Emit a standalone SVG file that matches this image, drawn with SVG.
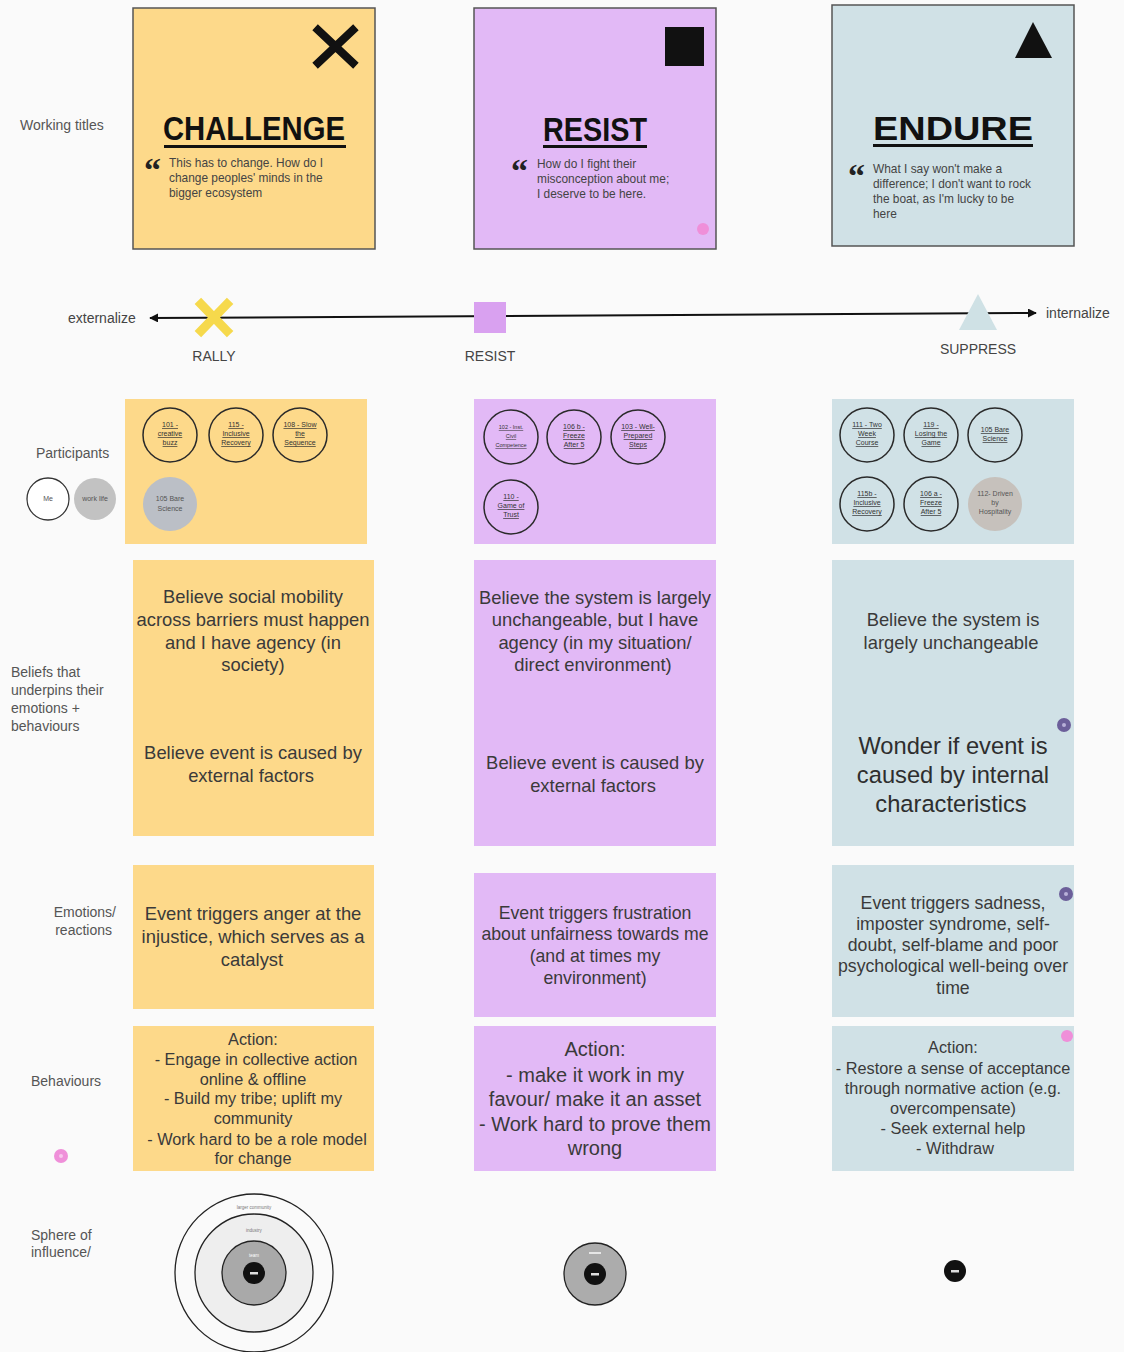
<svg xmlns="http://www.w3.org/2000/svg" width="1124" height="1352" viewBox="0 0 1124 1352">
  <style>
    text { font-family: "Liberation Sans", Arial, sans-serif; fill: #3a3a3a; }
    .lbl { font-size: 14px; fill: #555; }
    .title { font-size: 34px; font-weight: bold; fill: #111; text-anchor: middle; }
    .quote { font-size: 11.9px; fill: #444; }
    .qm { font-size: 34px; font-weight: bold; fill: #222; font-family: "Liberation Serif", serif; }
    .body { font-size: 18.4px; text-anchor: middle; fill: #3a3a3a; }
    .body16 { font-size: 17.7px; text-anchor: middle; fill: #3a3a3a; }
    .body15 { font-size: 16.3px; text-anchor: middle; fill: #3a3a3a; }
    .big { font-size: 23.7px; text-anchor: middle; fill: #2e2e2e; }
    .big19 { font-size: 20px; text-anchor: middle; fill: #3a3a3a; }
    .axis { font-size: 14px; fill: #444; }
    .pc { fill: none; stroke: #2a2a2a; stroke-width: 1.5; }
    .pt { font-size: 7px; text-anchor: middle; fill: #333; text-decoration: underline; }
    .pg { font-size: 7px; text-anchor: middle; fill: #555; }
    .yellow { fill: #fdd98a; }
    .purple { fill: #e2b9f6; }
    .blue { fill: #d0e1e6; }
    .card { stroke: #555; stroke-width: 1.5; }
    .pink { fill: #ef8fd9; }
    .violet { fill: #6c5f9a; }
  </style>
  <defs>
    <marker id="arrow" viewBox="0 0 10 10" refX="9" refY="5" markerWidth="9" markerHeight="9" markerUnits="userSpaceOnUse" orient="auto">
      <path d="M0,0 L10,5 L0,10 z" fill="#111"/>
    </marker>
  </defs>

  <rect width="1124" height="1352" fill="#fafafa"/>

  <!-- row labels -->
  <g id="row-labels">
    <text class="lbl" x="20" y="130">Working titles</text>
    <text class="lbl" x="36" y="458">Participants</text>
    <text class="lbl" x="11" y="677">Beliefs that</text>
    <text class="lbl" x="11" y="695">underpins their</text>
    <text class="lbl" x="11" y="713">emotions +</text>
    <text class="lbl" x="11" y="731">behaviours</text>
    <text class="lbl" x="116" y="917" text-anchor="end">Emotions/</text>
    <text class="lbl" x="112" y="935" text-anchor="end">reactions</text>
    <text class="lbl" x="31" y="1086">Behaviours</text>
    <text class="lbl" x="31" y="1240">Sphere of</text>
    <text class="lbl" x="31" y="1257">influence/</text>
  </g>

  <!-- title cards -->
  <g id="card-challenge">
    <rect class="yellow card" x="133" y="8" width="242" height="241"/>
    <path d="M318,30 L353,63 M353,30 L318,63" stroke="#111" stroke-width="8" stroke-linecap="square"/>
    <text class="title" x="254" y="140" textLength="182" lengthAdjust="spacingAndGlyphs">CHALLENGE</text>
    <rect x="164" y="145" width="182" height="3" fill="#111"/>
    <text class="qm" x="144" y="181">“</text>
    <text class="quote" x="169" y="167">This has to change. How do I</text>
    <text class="quote" x="169" y="182">change peoples' minds in the</text>
    <text class="quote" x="169" y="197">bigger ecosystem</text>
  </g>
  <g id="card-resist">
    <rect class="purple card" x="474" y="8" width="242" height="241"/>
    <rect x="665" y="27" width="39" height="39" fill="#111"/>
    <text class="title" x="595" y="141" textLength="104" lengthAdjust="spacingAndGlyphs">RESIST</text>
    <rect x="543" y="145" width="104" height="3" fill="#111"/>
    <text class="qm" x="511" y="182">“</text>
    <text class="quote" x="537" y="168">How do I fight their</text>
    <text class="quote" x="537" y="183">misconception about me;</text>
    <text class="quote" x="537" y="198">I deserve to be here.</text>
    <circle class="pink" cx="703" cy="229" r="6"/>
  </g>
  <g id="card-endure">
    <rect class="blue card" x="832" y="5" width="242" height="241"/>
    <polygon points="1015,58 1052,58 1033,22" fill="#111"/>
    <text class="title" x="953" y="140" textLength="160" lengthAdjust="spacingAndGlyphs">ENDURE</text>
    <rect x="873" y="144" width="160" height="3" fill="#111"/>
    <text class="qm" x="848" y="187">“</text>
    <text class="quote" x="873" y="173">What I say won't make a</text>
    <text class="quote" x="873" y="188">difference; I don't want to rock</text>
    <text class="quote" x="873" y="203">the boat, as I'm lucky to be</text>
    <text class="quote" x="873" y="218">here</text>
  </g>

  <!-- externalize / internalize axis -->
  <g id="connectors">
    <line x1="593" y1="315.5" x2="150" y2="318" stroke="#111" stroke-width="2" marker-end="url(#arrow)"/>
    <line x1="593" y1="315.5" x2="1036" y2="313" stroke="#111" stroke-width="2" marker-end="url(#arrow)"/>
  </g>
  <g id="axis-marks">
    <text class="axis" x="68" y="323">externalize</text>
    <text class="axis" x="1046" y="318">internalize</text>
    <path d="M201,304 L227,331 M227,304 L201,331" stroke="#f6d94c" stroke-width="9" stroke-linecap="square"/>
    <text class="axis" x="214" y="361" text-anchor="middle">RALLY</text>
    <rect x="474" y="302" width="32" height="31" fill="#d9a1f0"/>
    <text class="axis" x="490" y="361" text-anchor="middle">RESIST</text>
    <polygon points="978,294 997,330 959,330" fill="#cfe1e5"/>
    <text class="axis" x="978" y="354" text-anchor="middle">SUPPRESS</text>
  </g>

  <!-- participants -->
  <g id="legend">
    <circle cx="48" cy="499" r="21" fill="#fff" stroke="#333" stroke-width="1.3"/>
    <text class="pg" x="48" y="501">Me</text>
    <circle cx="95" cy="499" r="21" fill="#c2c2c2"/>
    <text class="pg" x="95" y="501" fill="#777">work life</text>
  </g>
  <g id="participants-challenge">
    <rect class="yellow" x="125" y="399" width="242" height="145"/>
    <circle class="pc" cx="170" cy="435" r="27"/>
    <text class="pt" x="170" y="427">101 -</text><text class="pt" x="170" y="436">creative</text><text class="pt" x="170" y="445">buzz</text>
    <circle class="pc" cx="236" cy="435" r="27"/>
    <text class="pt" x="236" y="427">115 -</text><text class="pt" x="236" y="436">Inclusive</text><text class="pt" x="236" y="445">Recovery</text>
    <circle class="pc" cx="300" cy="435" r="27"/>
    <text class="pt" x="300" y="427">108 - Slow</text><text class="pt" x="300" y="436">the</text><text class="pt" x="300" y="445">Sequence</text>
    <circle cx="170" cy="504" r="27" fill="#bbbfc6"/>
    <text class="pg" x="170" y="501">105 Bare</text><text class="pg" x="170" y="511">Science</text>
  </g>
  <g id="participants-resist">
    <rect class="purple" x="474" y="399" width="242" height="145"/>
    <circle class="pc" cx="511" cy="437" r="27"/>
    <text class="pt" x="511" y="429" style="font-size:5.5px">102 - Inst.</text><text class="pt" x="511" y="438" style="font-size:5.5px">Civil</text><text class="pt" x="511" y="447" style="font-size:5.5px">Competence</text>
    <circle class="pc" cx="574" cy="437" r="27"/>
    <text class="pt" x="574" y="429">106 b -</text><text class="pt" x="574" y="438">Freeze</text><text class="pt" x="574" y="447">After 5</text>
    <circle class="pc" cx="638" cy="437" r="27"/>
    <text class="pt" x="638" y="429">103 - Well-</text><text class="pt" x="638" y="438">Prepared</text><text class="pt" x="638" y="447">Steps</text>
    <circle class="pc" cx="511" cy="507" r="27"/>
    <text class="pt" x="511" y="499">110 -</text><text class="pt" x="511" y="508">Game of</text><text class="pt" x="511" y="517">Trust</text>
  </g>
  <g id="participants-endure">
    <rect class="blue" x="832" y="399" width="242" height="145"/>
    <circle class="pc" cx="867" cy="435" r="27"/>
    <text class="pt" x="867" y="427">111 - Two</text><text class="pt" x="867" y="436">Week</text><text class="pt" x="867" y="445">Course</text>
    <circle class="pc" cx="931" cy="435" r="27"/>
    <text class="pt" x="931" y="427">119 -</text><text class="pt" x="931" y="436">Losing the</text><text class="pt" x="931" y="445">Game</text>
    <circle class="pc" cx="995" cy="435" r="27"/>
    <text class="pt" x="995" y="432">105 Bare</text><text class="pt" x="995" y="441">Science</text>
    <circle class="pc" cx="867" cy="504" r="27"/>
    <text class="pt" x="867" y="496">115b -</text><text class="pt" x="867" y="505">Inclusive</text><text class="pt" x="867" y="514">Recovery</text>
    <circle class="pc" cx="931" cy="504" r="27"/>
    <text class="pt" x="931" y="496">106 a -</text><text class="pt" x="931" y="505">Freeze</text><text class="pt" x="931" y="514">After 5</text>
    <circle cx="995" cy="504" r="27" fill="#c6c1bc"/>
    <text class="pg" x="995" y="496">112- Driven</text><text class="pg" x="995" y="505">by</text><text class="pg" x="995" y="514">Hospitality</text>
  </g>

  <!-- beliefs -->
  <g id="beliefs-challenge">
    <rect class="yellow" x="133" y="560" width="241" height="276"/>
    <text class="body" x="253" y="603">Believe social mobility</text>
    <text class="body" x="253" y="626">across barriers must happen</text>
    <text class="body" x="253" y="649">and I have agency (in</text>
    <text class="body" x="253" y="671">society)</text>
    <text class="body" x="253" y="759">Believe event is caused by</text>
    <text class="body" x="251" y="782">external factors</text>
  </g>
  <g id="beliefs-resist">
    <rect class="purple" x="474" y="560" width="242" height="286"/>
    <text class="body" x="595" y="604">Believe the system is largely</text>
    <text class="body" x="595" y="626">unchangeable, but I have</text>
    <text class="body" x="595" y="649">agency (in my situation/</text>
    <text class="body" x="593" y="671">direct environment)</text>
    <text class="body" x="595" y="769">Believe event is caused by</text>
    <text class="body" x="593" y="792">external factors</text>
  </g>
  <g id="beliefs-endure">
    <rect class="blue" x="832" y="560" width="242" height="286"/>
    <text class="body" x="953" y="626">Believe the system is</text>
    <text class="body" x="951" y="649">largely unchangeable</text>
    <text class="big" x="953" y="754">Wonder if event is</text>
    <text class="big" x="953" y="783">caused by internal</text>
    <text class="big" x="951" y="812">characteristics</text>
    <circle class="violet" cx="1064" cy="725" r="7"/>
    <circle cx="1064" cy="725" r="2" fill="#b9b0d8"/>
  </g>

  <!-- emotions -->
  <g id="emotions-challenge">
    <rect class="yellow" x="133" y="865" width="241" height="144"/>
    <text class="body" x="253" y="920">Event triggers anger at the</text>
    <text class="body" x="253" y="943">injustice, which serves as a</text>
    <text class="body" x="252" y="966">catalyst</text>
  </g>
  <g id="emotions-resist">
    <rect class="purple" x="474" y="873" width="242" height="144"/>
    <text class="body16" x="595" y="919">Event triggers frustration</text>
    <text class="body16" x="595" y="940">about unfairness towards me</text>
    <text class="body16" x="595" y="962">(and at times my</text>
    <text class="body16" x="595" y="984">environment)</text>
  </g>
  <g id="emotions-endure">
    <rect class="blue" x="832" y="865" width="242" height="152"/>
    <text class="body16" x="953" y="909">Event triggers sadness,</text>
    <text class="body16" x="953" y="930">imposter syndrome, self-</text>
    <text class="body16" x="953" y="951">doubt, self-blame and poor</text>
    <text class="body16" x="953" y="972">psychological well-being over</text>
    <text class="body16" x="953" y="994">time</text>
    <circle class="violet" cx="1066" cy="894" r="7"/>
    <circle cx="1066" cy="894" r="2" fill="#b9b0d8"/>
  </g>

  <!-- behaviours -->
  <g id="behaviours-challenge">
    <rect class="yellow" x="133" y="1026" width="241" height="145"/>
    <text class="body15" x="253" y="1045">Action:</text>
    <text class="body15" x="256" y="1065">- Engage in collective action</text>
    <text class="body15" x="253" y="1085">online &amp; offline</text>
    <text class="body15" x="253" y="1104">- Build my tribe; uplift my</text>
    <text class="body15" x="253" y="1124">community</text>
    <text class="body15" x="257" y="1145">- Work hard to be a role model</text>
    <text class="body15" x="253" y="1164">for change</text>
  </g>
  <g id="behaviours-resist">
    <rect class="purple" x="474" y="1026" width="242" height="145"/>
    <text class="big19" x="595" y="1056">Action:</text>
    <text class="big19" x="595" y="1082">- make it work in my</text>
    <text class="big19" x="595" y="1106">favour/ make it an asset</text>
    <text class="big19" x="595" y="1131">- Work hard to prove them</text>
    <text class="big19" x="595" y="1155">wrong</text>
  </g>
  <g id="behaviours-endure">
    <rect class="blue" x="832" y="1026" width="242" height="145"/>
    <text class="body15" x="953" y="1053">Action:</text>
    <text class="body15" x="953" y="1074">- Restore a sense of acceptance</text>
    <text class="body15" x="953" y="1094">through normative action (e.g.</text>
    <text class="body15" x="953" y="1114">overcompensate)</text>
    <text class="body15" x="953" y="1134">- Seek external help</text>
    <text class="body15" x="955" y="1154">- Withdraw</text>
    <circle class="pink" cx="1067" cy="1036" r="6"/>
  </g>
  <circle class="pink" cx="61" cy="1156" r="7"/>
  <circle cx="61" cy="1156" r="2" fill="#f7c6ec"/>

  <!-- spheres of influence -->
  <g id="sphere-challenge">
    <circle cx="254" cy="1273" r="79" fill="#fafafa" stroke="#222" stroke-width="1.3"/>
    <circle cx="254" cy="1273" r="59" fill="#eeeeee" stroke="#222" stroke-width="1.3"/>
    <circle cx="254" cy="1273" r="32" fill="#a9a9a9" stroke="#222" stroke-width="1.3"/>
    <circle cx="254" cy="1273" r="11" fill="#111"/>
    <rect x="250" y="1272" width="8" height="2.5" fill="#ddd"/>
    <text x="254" y="1209" style="font-size:4.5px;text-anchor:middle;fill:#777">larger community</text>
    <text x="254" y="1232" style="font-size:4.5px;text-anchor:middle;fill:#777">industry</text>
    <text x="254" y="1257" style="font-size:4.5px;text-anchor:middle;fill:#fff">team</text>
  </g>
  <g id="sphere-resist">
    <circle cx="595" cy="1274" r="31" fill="#acacac" stroke="#222" stroke-width="1.3"/>
    <circle cx="595" cy="1274" r="11" fill="#111"/>
    <rect x="591" y="1273" width="8" height="2.5" fill="#ddd"/>
    <rect x="589" y="1252" width="12" height="2" fill="#e6e6e6"/>
  </g>
  <g id="sphere-endure">
    <circle cx="955" cy="1271" r="11" fill="#111"/>
    <rect x="951" y="1270" width="8" height="2.5" fill="#ddd"/>
  </g>
</svg>
